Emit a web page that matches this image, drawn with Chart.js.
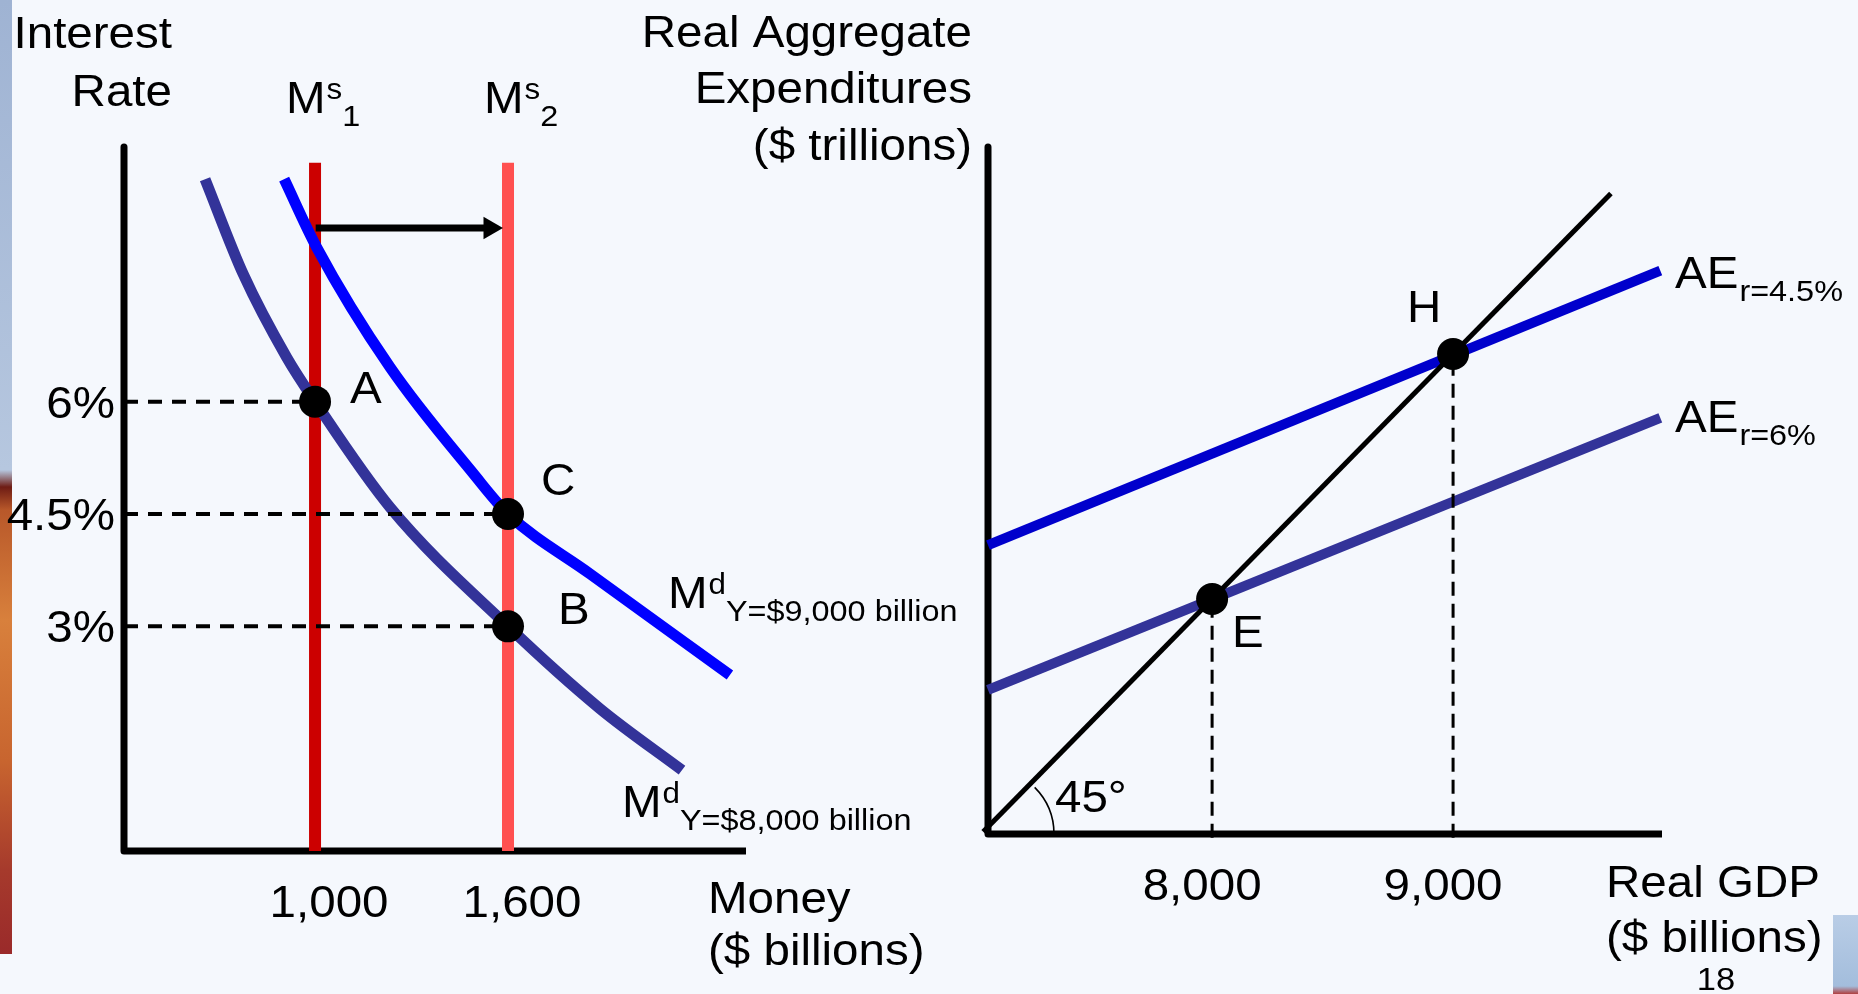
<!DOCTYPE html>
<html>
<head>
<meta charset="utf-8">
<title>Money market and aggregate expenditures</title>
<script src="https://cdn.jsdelivr.net/npm/chart.js@4.4.1/dist/chart.umd.min.js"></script>
<style>
  html, body { margin: 0; padding: 0; background: #f5f8fd; }
  #wrap { position: relative; width: 1858px; height: 994px; overflow: hidden; background: #f5f8fd; }
  #wrap canvas { position: absolute; left: 0; top: 0; }
  /* bits of the slide background peeking in at the edges */
  #edgeL {
    position: absolute; left: 0; top: 0; width: 12px; height: 954px;
    background: linear-gradient(to bottom, #9fb3d3 0px, #b6c7df 470px, #6e1c14 487px,
      #b8582a 510px, #d8803c 620px, #c8652f 760px, #a63a2c 870px, #9a2a2a 954px);
  }
  #edgeR { position: absolute; left: 1833px; top: 915px; width: 25px; height: 79px;
    background: linear-gradient(to bottom, #b9cde6, #a3bddc 90%, #b04040 100%); }
</style>
</head>
<body>
<div id="wrap">
  <div id="edgeL"></div>
  <div id="edgeR"></div>
  <canvas id="moneyChart" width="1858" height="994"></canvas>
  <canvas id="aeChart" width="1858" height="994"></canvas>
</div>

<script>
"use strict";

/* ── Left panel: money market ─────────────────────────────────── */
const moneyRange      = [406, 2340];      // $ billions on the x axis
const rateRange       = [0, 9.4];         // interest rate, %
const moneyTicks      = [1000, 1600];
const moneyTickLabels = ["1,000", "1,600"];
const rateTicks       = [6, 4.5, 3];
const rateTickLabels  = ["6%", "4.5%", "3%"];

const supplyMoney     = [1000, 1600];     // Ms1, Ms2
const supplyTop       = 9.19;

// money demand, Y = $8,000 billion
const md8Money = [658, 777, 912, 1000, 1233, 1600, 1886, 2141];
const md8Rate  = [8.97, 7.70, 6.59, 6.0, 4.59, 3.0, 1.90, 1.08];
// money demand, Y = $9,000 billion
const md9Money = [904, 1005, 1233, 1492, 1600, 1855, 2290];
const md9Rate  = [8.97, 8.06, 6.46, 5.04, 4.5, 3.70, 2.35];

const moneyPointLabels = ["A", "C", "B"];
const moneyPointMoney  = [1000, 1600, 1600];
const moneyPointRate   = [6, 4.5, 3];

const shiftMoney = [1002, 1544];          // arrow Ms1 -> Ms2
const shiftRate  = 8.32;

/* ── Right panel: aggregate expenditures ──────────────────────── */
const gdpRange      = [7070, 9867];
const aeRange       = [7041, 9845];
const gdpTicks      = [8000, 9000];
const gdpTickLabels = ["8,000", "9,000"];

const lineGdp = [7050, 9655];             // 45 degree line, y = x
const aeGdp   = [7070, 9860];
const ae45    = [8220, 9340];             // AE at r = 4.5%
const ae6     = [7629, 8739];             // AE at r = 6%

const eqLabels = ["E", "H"];
const eqGdp    = [8000, 9000];

/* ── Styles ───────────────────────────────────────────────────── */
const FONT    = "'Liberation Sans', Arial, Helvetica, sans-serif";
const BIG     = 44;
const SMALL   = 30;
const STRETCH = 1.08;   // the slide text is a little wider than plain Arial

function font(size) { return size + "px " + FONT; }

function textWidth(ctx, s, size) {
  ctx.font = font(size);
  return ctx.measureText(s).width * STRETCH;
}

function text(ctx, s, x, y, size, align) {
  ctx.save();
  ctx.font = font(size);
  ctx.textAlign = align || "left";
  ctx.textBaseline = "alphabetic";
  ctx.fillStyle = "#000";
  ctx.translate(x, y);
  ctx.scale(STRETCH, 1);
  ctx.fillText(s, 0, 0);
  ctx.restore();
}

/* base letter with optional superscript and subscript, e.g. M^s_1 */
function scripted(ctx, base, sup, sub, x, y) {
  text(ctx, base, x, y, BIG);
  let cx = x + textWidth(ctx, base, BIG) + 1;
  if (sup) {
    text(ctx, sup, cx, y - 14, SMALL - 1);
    cx += textWidth(ctx, sup, SMALL - 1);
  }
  if (sub) text(ctx, sub, cx, y + 13, SMALL);
}

function xy(xs, ys) { return xs.map((x, i) => ({ x, y: ys[i] })); }

function line(data, color, width, extra) {
  return Object.assign({
    data, showLine: true, borderColor: color, borderWidth: width,
    pointRadius: 0, clip: false, fill: false,
  }, extra || {});
}

function baseOptions(padding, xr, yr) {
  return {
    responsive: false,
    animation: false,
    events: [],
    layout: { padding },
    plugins: { legend: { display: false }, tooltip: { enabled: false } },
    scales: {
      x: { type: "linear", display: false, min: xr[0], max: xr[1] },
      y: { type: "linear", display: false, min: yr[0], max: yr[1] },
    },
  };
}

/* ── Money market chart ───────────────────────────────────────── */
const moneyLabelsPlugin = {
  id: "moneyLabels",
  afterDraw(chart) {
    const { ctx, scales: { x, y } } = chart;

    text(ctx, "Interest", 172, 48, BIG, "right");
    text(ctx, "Rate", 172, 106, BIG, "right");

    scripted(ctx, "M", "s", "1", x.getPixelForValue(supplyMoney[0]) - 29, 113);
    scripted(ctx, "M", "s", "2", x.getPixelForValue(supplyMoney[1]) - 24, 113);

    rateTicks.forEach((r, i) => text(ctx, rateTickLabels[i], 115, y.getPixelForValue(r) + 16, BIG, "right"));
    moneyTicks.forEach((m, i) => text(ctx, moneyTickLabels[i], x.getPixelForValue(m) + 14, 917, BIG, "center"));

    text(ctx, "Money", 708, 913, BIG);
    text(ctx, "($ billions)", 708, 965, BIG);

    const offs = { A: [35, 1], C: [33, -19], B: [50, -2] };
    moneyPointLabels.forEach((l, i) => {
      const px = x.getPixelForValue(moneyPointMoney[i]);
      const py = y.getPixelForValue(moneyPointRate[i]);
      text(ctx, l, px + offs[l][0], py + offs[l][1], BIG);
    });

    scripted(ctx, "M", "d", "Y=$9,000 billion", 668, 608);
    scripted(ctx, "M", "d", "Y=$8,000 billion", 622, 817);
  }
};

new Chart(document.getElementById("moneyChart"), {
  type: "scatter",
  plugins: [moneyLabelsPlugin],
  data: {
    datasets: [
      // equilibrium points (drawn on top)
      { data: xy(moneyPointMoney, moneyPointRate), pointRadius: 16, pointBackgroundColor: "#000",
        pointBorderWidth: 0, showLine: false, clip: false },
      // dashed guides from the rate axis
      ...moneyPointRate.map((r, i) => line(
        [{ x: moneyRange[0], y: r }, { x: moneyPointMoney[i], y: r }], "#000", 4, { borderDash: [14, 10] })),
      // shift arrow
      line([{ x: shiftMoney[0], y: shiftRate }, { x: shiftMoney[1], y: shiftRate }], "#000", 7, {
        pointRadius: [0, 13], pointStyle: "triangle", pointRotation: 90,
        pointBackgroundColor: "#000", pointBorderWidth: 0,
      }),
      // money demand curves
      line(xy(md9Money, md9Rate), "#0000ff", 11, { cubicInterpolationMode: "monotone" }),
      line(xy(md8Money, md8Rate), "#333399", 11, { cubicInterpolationMode: "monotone" }),
      // money supply
      line([{ x: supplyMoney[0], y: 0 }, { x: supplyMoney[0], y: supplyTop }], "#cc0000", 12),
      line([{ x: supplyMoney[1], y: 0 }, { x: supplyMoney[1], y: supplyTop }], "#ff5050", 12),
      // axes
      line([{ x: moneyRange[0], y: rateRange[1] }, { x: moneyRange[0], y: rateRange[0] },
            { x: moneyRange[1], y: rateRange[0] }], "#000", 7, { borderJoinStyle: "round" }),
    ]
  },
  options: baseOptions({ left: 124, right: 1858 - 746, top: 147, bottom: 994 - 851 }, moneyRange, rateRange),
});

/* ── Aggregate expenditure chart ──────────────────────────────── */
const aeLabelsPlugin = {
  id: "aeLabels",
  afterDraw(chart) {
    const { ctx, scales: { x, y } } = chart;

    text(ctx, "Real Aggregate", 972, 47, BIG, "right");
    text(ctx, "Expenditures", 972, 103, BIG, "right");
    text(ctx, "($ trillions)", 972, 160, BIG, "right");

    gdpTicks.forEach((g, i) => text(ctx, gdpTickLabels[i], x.getPixelForValue(g) - 10, 900, BIG, "center"));

    text(ctx, "Real GDP", 1606, 897, BIG);
    text(ctx, "($ billions)", 1606, 952, BIG);
    text(ctx, "18", 1716, 990, 32, "center");

    scripted(ctx, "AE", null, "r=4.5%", 1675, 288);
    scripted(ctx, "AE", null, "r=6%", 1675, 432);

    const offs = { E: [20, 48], H: [-46, -32] };
    eqLabels.forEach((l, i) => {
      const px = x.getPixelForValue(eqGdp[i]);
      const py = y.getPixelForValue(eqGdp[i]);
      text(ctx, l, px + offs[l][0], py + offs[l][1], BIG);
    });

    // 45 degree marker
    const ox = x.getPixelForValue(gdpRange[0]);
    const oy = y.getPixelForValue(aeRange[0]);
    ctx.save();
    ctx.beginPath();
    ctx.strokeStyle = "#000";
    ctx.lineWidth = 1.6;
    ctx.arc(ox, oy, 66, -Math.PI / 4, 0);
    ctx.stroke();
    ctx.restore();
    text(ctx, "45°", 1055, 812, BIG);
  }
};

new Chart(document.getElementById("aeChart"), {
  type: "scatter",
  plugins: [aeLabelsPlugin],
  data: {
    datasets: [
      { data: xy(eqGdp, eqGdp), pointRadius: 16, pointBackgroundColor: "#000",
        pointBorderWidth: 0, showLine: false, clip: false },
      ...eqGdp.map(g => line([{ x: g, y: aeRange[0] - 15 }, { x: g, y: g }], "#000", 3, { borderDash: [14, 8] })),
      line(xy(lineGdp, lineGdp), "#000", 5),
      line(xy(aeGdp, ae45), "#0000cc", 10),
      line(xy(aeGdp, ae6), "#333399", 10),
      line([{ x: gdpRange[0], y: aeRange[1] }, { x: gdpRange[0], y: aeRange[0] },
            { x: gdpRange[1], y: aeRange[0] }], "#000", 7, { borderJoinStyle: "round" }),
    ]
  },
  options: baseOptions({ left: 988, right: 1858 - 1662, top: 147, bottom: 994 - 834 }, gdpRange, aeRange),
});
</script>
</body>
</html>
